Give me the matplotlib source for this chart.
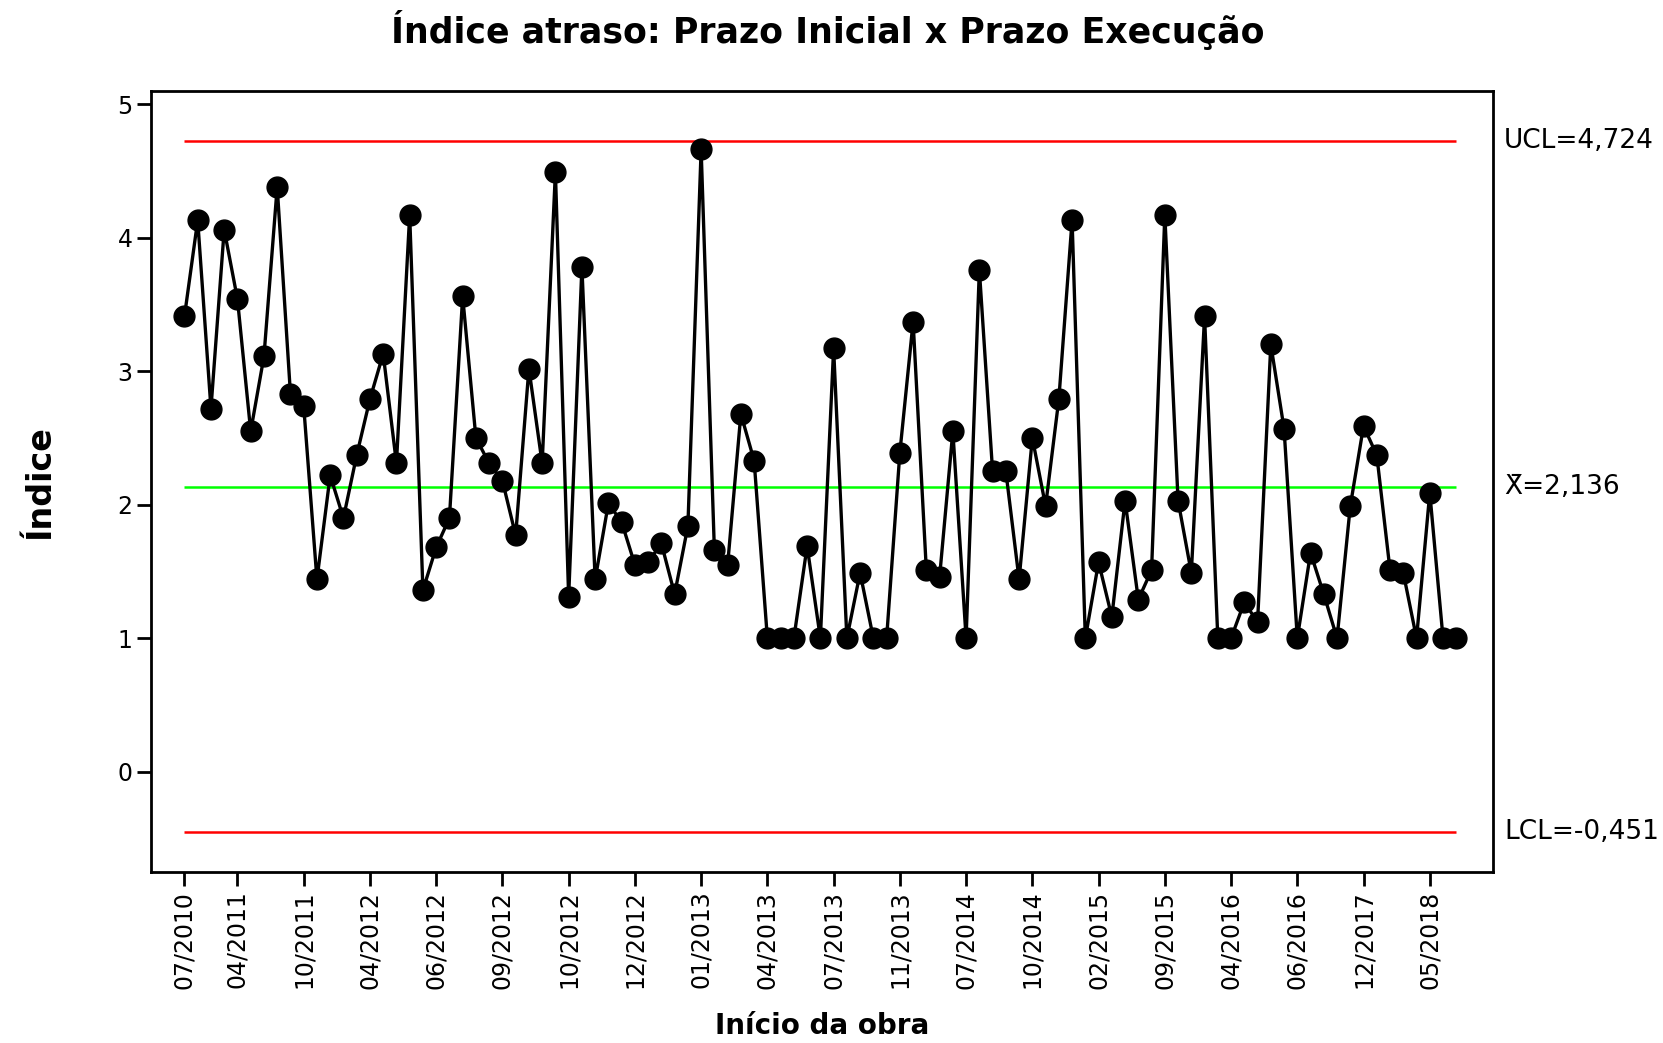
import matplotlib
matplotlib.use("Agg")
import matplotlib.pyplot as plt
import numpy as np

# Índice de atraso por obra (ordem de início)
valores = [
    3.41, 4.13, 2.72, 4.06, 3.54, 2.55, 3.11, 4.38, 2.83, 2.74,
    1.44, 2.22, 1.90, 2.37, 2.79, 3.13, 2.31, 4.17, 1.36, 1.68,
    1.90, 3.56, 2.50, 2.31, 2.18, 1.77, 3.02, 2.31, 4.49, 1.31,
    3.78, 1.44, 2.01, 1.87, 1.55, 1.57, 1.71, 1.33, 1.84, 4.66,
    1.66, 1.55, 2.68, 2.33, 1.00, 1.00, 1.00, 1.69, 1.00, 3.17,
    1.00, 1.49, 1.00, 1.00, 2.39, 3.37, 1.51, 1.46, 2.55, 1.00,
    3.76, 2.25, 2.25, 1.44, 2.50, 1.99, 2.79, 4.13, 1.00, 1.57,
    1.16, 2.03, 1.29, 1.51, 4.17, 2.03, 1.49, 3.41, 1.00, 1.00,
    1.27, 1.12, 3.20, 2.57, 1.00, 1.64, 1.33, 1.00, 1.99, 2.59,
    2.37, 1.51, 1.49, 1.00, 2.09, 1.00, 1.00,
]

tick_pos = [1, 5, 10, 15, 20, 25, 30, 35, 40, 45, 50, 55, 60, 65, 70, 75, 80, 85, 90, 95]
tick_labels = ["07/2010", "04/2011", "10/2011", "04/2012", "06/2012", "09/2012",
               "10/2012", "12/2012", "01/2013", "04/2013", "07/2013", "11/2013",
               "07/2014", "10/2014", "02/2015", "09/2015", "04/2016", "06/2016",
               "12/2017", "05/2018"]

ucl = 4.724
media = 2.136
lcl = -0.451

x = np.arange(1, len(valores) + 1)

fig = plt.figure(figsize=(16.63, 10.43), dpi=100)
ax = fig.add_axes([0.091, 0.164, 0.807, 0.749])

ax.hlines([ucl, lcl], x[0], x[-1], colors="#ff0000", lw=1.8, zorder=1)
ax.hlines(media, x[0], x[-1], colors="#00ff00", lw=1.8, zorder=1)
ax.plot(x, valores, color="black", lw=2.4, marker="o", markersize=15, zorder=3)

ax.set_xlim(-1.5, 99.8)
ax.set_ylim(-0.75, 5.1)
ax.set_yticks([0, 1, 2, 3, 4, 5])
ax.set_xticks(tick_pos)
ax.set_xticklabels(tick_labels, rotation=90)
ax.tick_params(axis="both", direction="out", length=10, width=2, labelsize=17)
for s in ax.spines.values():
    s.set_linewidth(2)

# rótulos dos limites à direita
lim_kw = dict(transform=ax.get_yaxis_transform(), va="center", ha="left", fontsize=19)
ax.text(1.008, ucl, "UCL=4,724", **lim_kw)
ax.text(1.008, media, "X\u0304=2,136", **lim_kw)
ax.text(1.008, lcl, "LCL=-0,451", **lim_kw)

fig.suptitle("Índice atraso: Prazo Inicial x Prazo Execução", x=0.498, y=0.99,
             fontsize=25, fontweight="bold")
ax.set_ylabel("Índice", fontsize=24, fontweight="bold", labelpad=44)
fig.text(0.4945, 0.016, "Início da obra", ha="center", va="center",
         fontsize=20, fontweight="bold")

fig.savefig("out.png", dpi=100)
